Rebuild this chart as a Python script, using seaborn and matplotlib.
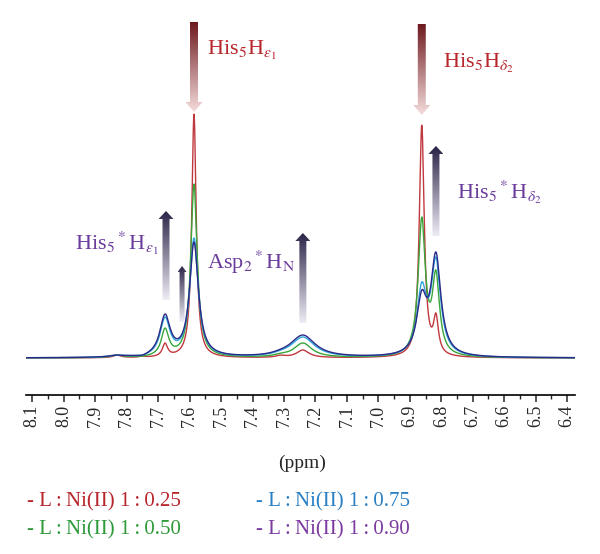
import numpy as np
import pandas as pd
import matplotlib
matplotlib.use("Agg")
import matplotlib.pyplot as plt
import seaborn as sns
from matplotlib.patches import Polygon
from matplotlib.colors import LinearSegmentedColormap

# peak positions (ppm) and base half widths (ppm)
peak_ppm = [7.83, 7.75, 7.678, 7.586, 7.31, 7.24, 6.862, 6.817]
peak_hwhm = [0.015, 0.010, 0.010, 0.0085, 0.018, 0.024, 0.0095, 0.0095]

# heights at each peak position, one list per ratio
ratios = ["1:0.25", "1:0.50", "1:0.75", "1:0.90"]
h_025 = [3, 2, 15, 244, 3, 8, 233, 45]
h_050 = [3, 2, 30, 174, 5, 15, 141, 88]
h_075 = [3, 3, 41, 120, 8, 21, 76, 101]
h_090 = [3, 3, 44, 116, 9, 23, 68, 106]
width_scale = [1.0, 1.45, 1.9, 2.0]

line_colors = ["#c0393f", "#3aa53a", "#2ea6dc", "#2b2a86"]
text_colors = ["#b8262d", "#2e9a3a", "#2a80c4", "#7a3aa0"]

sns.set_style("white")
plt.rcParams["font.family"] = ["Liberation Serif", "DejaVu Serif"]
plt.rcParams["mathtext.fontset"] = "stix"


def lorentz(x, x0, g):
    return g ** 2 / ((x - x0) ** 2 + g ** 2)


ppm = np.linspace(6.375, 8.12, 2500)
centers = np.array(peak_ppm)
frames = []
for name, h, ws in zip(ratios, [h_025, h_050, h_075, h_090], width_scale):
    g = np.array(peak_hwhm) * ws
    M = np.array([[lorentz(c, cj, gj) for cj, gj in zip(centers, g)] for c in centers])
    amps = np.linalg.solve(M, np.array(h, dtype=float))
    y = sum(a * lorentz(ppm, cj, gj) for a, cj, gj in zip(amps, centers, g))
    frames.append(pd.DataFrame({"ppm": ppm, "intensity": y, "ratio": name}))
df = pd.concat(frames, ignore_index=True)

fig = plt.figure(figsize=(6, 5.54), dpi=100)
ax = fig.add_axes([26 / 600, 1 - 395 / 554, 549 / 600, 395 / 554])

sns.lineplot(data=df, x="ppm", y="intensity", hue="ratio", hue_order=ratios,
             palette=line_colors, linewidth=1.0, estimator=None, sort=False,
             legend=False, ax=ax)


def grad_arrow(x, y_tail, y_tip, shaft_w, head_w, head_len, c_top, c_bot):
    d = np.sign(y_tip - y_tail)
    base = y_tip - d * head_len
    pts = [(x - shaft_w, y_tail), (x + shaft_w, y_tail), (x + shaft_w, base),
           (x + head_w, base), (x, y_tip), (x - head_w, base), (x - shaft_w, base)]
    poly = Polygon(pts, closed=True, facecolor="none", edgecolor="none")
    ax.add_patch(poly)
    cmap = LinearSegmentedColormap.from_list("g", [c_bot] + [c_top])
    grad = np.linspace(0, 1, 256).reshape(-1, 1)
    im = ax.imshow(grad, cmap=cmap, origin="lower", aspect="auto",
                   extent=[x - head_w, x + head_w, min(y_tail, y_tip), max(y_tail, y_tip)],
                   zorder=3, interpolation="bilinear")
    im.set_clip_path(poly)


px = 1 / 315.0
red_top, red_bot = "#6e1a1f", "#f5dcdc"
pur_top, pur_bot = "#2a2246", "#efecf5"
grad_arrow(7.586, 336, 246, 4 * px, 8.5 * px, 10, red_top, red_bot)
grad_arrow(6.862, 334, 243, 4 * px, 8.5 * px, 10, red_top, red_bot)
grad_arrow(7.675, 58, 147, 3.5 * px, 7.5 * px, 8, pur_top, pur_bot)
grad_arrow(7.624, 36, 92, 2.5 * px, 4.5 * px, 6, pur_top, pur_bot)
grad_arrow(7.240, 35, 125, 3.5 * px, 7.5 * px, 8, pur_top, pur_bot)
grad_arrow(6.817, 122, 212, 3.5 * px, 7.5 * px, 8, pur_top, pur_bot)

fs = 16
ax.text(7.544, 303, r"His$_5$H$_{\varepsilon_1}$", color=text_colors[0], fontsize=fs)
ax.text(6.795, 290, r"His$_5$H$_{\delta_2}$", color=text_colors[0], fontsize=fs)
ax.text(7.963, 108, r"His$_5{}^*$H$_{\varepsilon_1}$", color="#6a3c9c", fontsize=fs)
ax.text(7.544, 89, r"Asp$_2{}^*$H$_\mathrm{N}$", color="#6a3c9c", fontsize=fs)
ax.text(6.751, 159, r"His$_5{}^*$H$_{\delta_2}$", color="#6a3c9c", fontsize=fs)

ax.set_xlim(8.12, 6.375)
ax.set_ylim(-37, 358)
major = np.round(np.arange(6.4, 8.101, 0.1), 1)
ax.set_xticks(major)
ax.set_xticks(np.arange(6.45, 8.1, 0.1), minor=True)
ax.set_xticklabels([f"{t:.1f}" for t in major], rotation=90, fontsize=13)
ax.tick_params(axis="x", which="major", direction="out", length=5, width=1.1, pad=2,
               bottom=True)
ax.tick_params(axis="x", which="minor", direction="out", length=3, width=1.0, bottom=True)
ax.set_yticks([])
ax.set_xlabel("")
ax.set_ylabel("")
for s in ["left", "top", "right"]:
    ax.spines[s].set_visible(False)
ax.spines["bottom"].set_linewidth(1.2)
ax.spines["bottom"].set_color("black")

fig.text(302 / 600, 1 - 463 / 554, "(ppm)", ha="center", va="center", fontsize=14)
hs = "\u2009"
leg = [f"- L{hs}:{hs}Ni(II) 1{hs}:{hs}0.{r}" for r in ["25", "50", "75", "90"]]
pos = [(27, 502), (27, 530), (256, 502), (256, 530)]
for t, (x, y), c in zip(leg, pos, text_colors):
    fig.text(x / 600, 1 - y / 554, t, ha="left", va="center", fontsize=15, color=c)

fig.savefig("out.png", dpi=100)
